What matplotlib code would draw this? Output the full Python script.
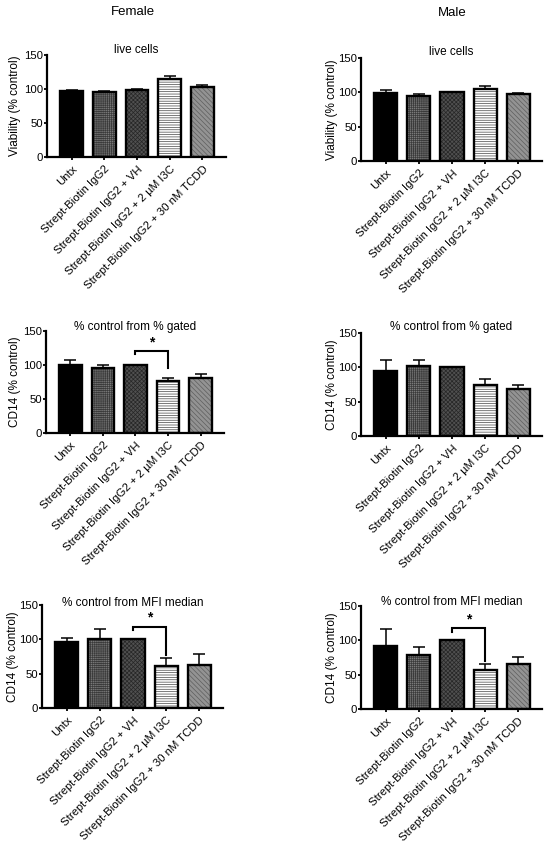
import matplotlib
matplotlib.use("Agg")
import matplotlib.pyplot as plt
import numpy as np

plt.rcParams['font.family'] = ['Liberation Sans', 'DejaVu Sans']
plt.rcParams['hatch.linewidth'] = 0.5

categories = ["Untx", "Strept-Biotin IgG2", "Strept-Biotin IgG2 + VH",
              "Strept-Biotin IgG2 + 2 µM I3C", "Strept-Biotin IgG2 + 30 nM TCDD"]
yticks = [0, 50, 100, 150]

# Female
f_live = [97.5, 96, 99, 115, 103]
f_live_err = [1.2, 1.2, 0.3, 4, 2.5]
f_gated = [100, 95.5, 100, 76, 81]
f_gated_err = [8, 5, 0.3, 4.5, 6]
f_mfi = [96.5, 101, 100, 61, 63]
f_mfi_err = [5.5, 14, 0.3, 12, 15]
# Male
m_live = [99.5, 95, 100, 105.5, 97.5]
m_live_err = [3.5, 2, 0.3, 3, 1.5]
m_gated = [95, 102, 100, 75, 69]
m_gated_err = [15, 9, 0.3, 8, 5]
m_mfi = [92, 79, 100, 57, 66]
m_mfi_err = [24, 12, 0.3, 8.5, 10]

W, H = 550, 849
fig = plt.figure(figsize=(W / 100, H / 100), dpi=100)

face = ['black', '#7a7a7a', '#505050', 'white', '#939393']
hatches = [None, '++++++++', 'xxxxxxxx', '-------', '\\\\\\\\\\\\\\']
hcol = ['black', '#3a3a3a', '#262626', '#444444', '#5e5e5e']


def add_ax(x0, x1, ytop, ybot):
    return fig.add_axes([x0 / W, 1 - ybot / H, (x1 - x0) / W, (ybot - ytop) / H])


def panel(x0, x1, ytop, ybot, vals, errs, title, ylabel, ylx, toff, bracket=None):
    ax = add_ax(x0, x1, ytop, ybot)
    x = np.arange(len(categories))
    for i in range(len(categories)):
        ax.bar(x[i], vals[i], width=0.7, color=face[i], hatch=hatches[i],
               edgecolor=hcol[i], linewidth=0, zorder=2)
        ax.bar(x[i], vals[i], width=0.7, fill=False, edgecolor='black',
               linewidth=1.7, zorder=3)
    ax.errorbar(x, vals, yerr=[np.zeros(len(vals)), errs], fmt='none',
                ecolor='black', elinewidth=1.1, capsize=4.3, capthick=1.1, zorder=1)
    ax.set_xlim(-0.75, 4.72)
    ax.set_ylim(0, 150)
    ax.set_yticks(yticks)
    ax.set_yticklabels([str(t) for t in yticks], fontsize=8.2)
    ax.set_xticks(x)
    ax.set_xticklabels(categories, rotation=45, ha='right', va='top',
                       rotation_mode='anchor', fontsize=8.2)
    for s in ['top', 'right']:
        ax.spines[s].set_visible(False)
    for s in ['left', 'bottom']:
        ax.spines[s].set_linewidth(1.6)
    ax.spines['left'].set_bounds(0, 150)
    ax.tick_params(axis='both', width=1.3, length=2.5, direction='out', pad=0.5)
    ax.tick_params(axis='x', pad=2.5)
    fig.text(ylx / W, 1 - ((ytop + ybot) / 2) / H, ylabel, rotation=90,
             ha='center', va='center', fontsize=8.5)
    fig.text(((x0 + x1) / 2) / W, 1 - (ytop - toff) / H, title, ha='center',
             va='center', fontsize=8.5)
    ax.patch.set_visible(False)
    if bracket is not None:
        yh, yl, yr = bracket
        ax.plot([2, 2, 3, 3], [yl, yh, yh, yr], color='black', lw=1.5,
                clip_on=False, zorder=4, solid_joinstyle='miter')
        ax.text(2.5, yh + 3, '*', ha='center', va='bottom', fontsize=10,
                fontweight='bold', clip_on=False)
    return ax


panel(47, 226, 55, 157, f_live, f_live_err, 'live cells', 'Viability (% control)', 15, 5)
panel(361, 542, 58, 161, m_live, m_live_err, 'live cells', 'Viability (% control)', 332, 6)
panel(46, 224, 331, 433, f_gated, f_gated_err, '% control from % gated',
      'CD14 (% control)', 15, 4, bracket=(120, 116, 96))
panel(361, 542, 333, 436, m_gated, m_gated_err, '% control from % gated',
      'CD14 (% control)', 332, 6)
panel(42, 223, 605, 708, f_mfi, f_mfi_err, '% control from MFI median',
      'CD14 (% control)', 13, 2, bracket=(118.5, 113, 77))
panel(361, 542, 606, 709, m_mfi, m_mfi_err, '% control from MFI median',
      'CD14 (% control)', 332, 4, bracket=(117.5, 112, 70))

fig.text(133 / W, 1 - 12 / H, 'Female', ha='center', va='center', fontsize=9.5)
fig.text(452 / W, 1 - 13 / H, 'Male', ha='center', va='center', fontsize=9.5)

fig.savefig('out.png', dpi=100, facecolor='white')
